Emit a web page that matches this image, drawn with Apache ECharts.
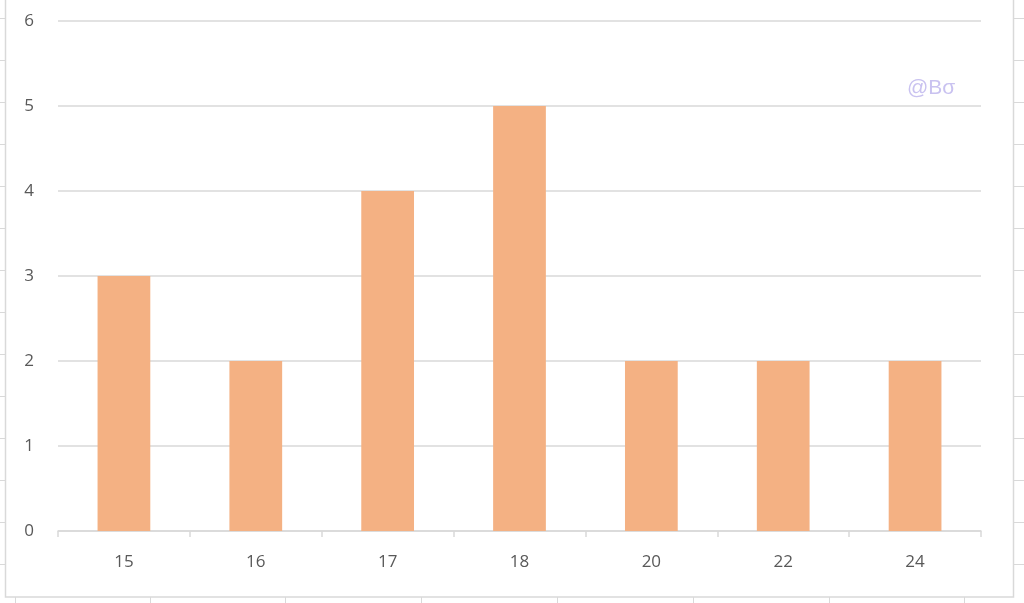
<!DOCTYPE html>
<html>
<head>
<meta charset="utf-8">
<script src="https://cdn.jsdelivr.net/npm/echarts@6/dist/echarts.min.js"></script>
<style>
html,body{margin:0;padding:0;background:#fff;}
#c{width:1024px;height:603px;}
</style>
</head>
<body>
<div id="c"></div>
<script>
const categories = ['15', '16', '17', '18', '20', '22', '24'];
const counts = [3, 2, 4, 5, 2, 2, 2];
const yTicks = [0, 1, 2, 3, 4, 5, 6];

const chart = echarts.init(document.getElementById('c'));
const gridC = '#d9d9d9';
const deco = [];
// chart frame
deco.push({type:'rect', shape:{x:5.5, y:-2, width:1008, height:599}, style:{fill:null, stroke:gridC, lineWidth:1.5}, silent:true, z:-1});
// spreadsheet gridline stubs outside the frame
const rowYs = [18, 60, 102, 144, 186, 228, 270, 312, 354, 396, 438, 480, 522, 564];
rowYs.forEach(y => {
  deco.push({type:'line', shape:{x1:0, y1:y+0.5, x2:5, y2:y+0.5}, style:{stroke:gridC, lineWidth:1}, silent:true});
  deco.push({type:'line', shape:{x1:1014, y1:y+0.5, x2:1024, y2:y+0.5}, style:{stroke:gridC, lineWidth:1}, silent:true});
});
const colXs = [15, 150, 285, 421, 557, 693, 829, 964];
colXs.forEach(x => {
  deco.push({type:'line', shape:{x1:x+0.5, y1:597, x2:x+0.5, y2:603}, style:{stroke:gridC, lineWidth:1}, silent:true});
});
deco.push({type:'text', left:907, top:78, style:{text:'@B\u03c3', fill:'#c9c2f0', font:'21px "Liberation Sans", sans-serif'}, silent:true});

chart.setOption({
  animation:false,
  backgroundColor:'#ffffff',
  grid:{left:58, right:43, top:21, bottom:72, containLabel:false},
  xAxis:{
    type:'category',
    data:categories,
    boundaryGap:true,
    axisLine:{show:true, lineStyle:{color:gridC, width:1.5}},
    axisTick:{show:true, alignWithLabel:false, length:6, lineStyle:{color:gridC, width:1.5}},
    axisLabel:{color:'#595959', fontSize:17, margin:23, fontFamily:'"Open Sans", sans-serif'}
  },
  yAxis:{
    type:'value',
    min:yTicks[0], max:yTicks[yTicks.length-1], interval:1,
    axisLine:{show:false},
    axisTick:{show:false},
    splitLine:{show:true, lineStyle:{color:gridC, width:1.5}},
    axisLabel:{color:'#595959', fontSize:17, margin:24, fontFamily:'"Open Sans", sans-serif'}
  },
  series:[{
    type:'bar',
    data:counts,
    barWidth:'40%',
    itemStyle:{color:'#f4b183'}
  }],
  graphic:deco
});
</script>
</body>
</html>
